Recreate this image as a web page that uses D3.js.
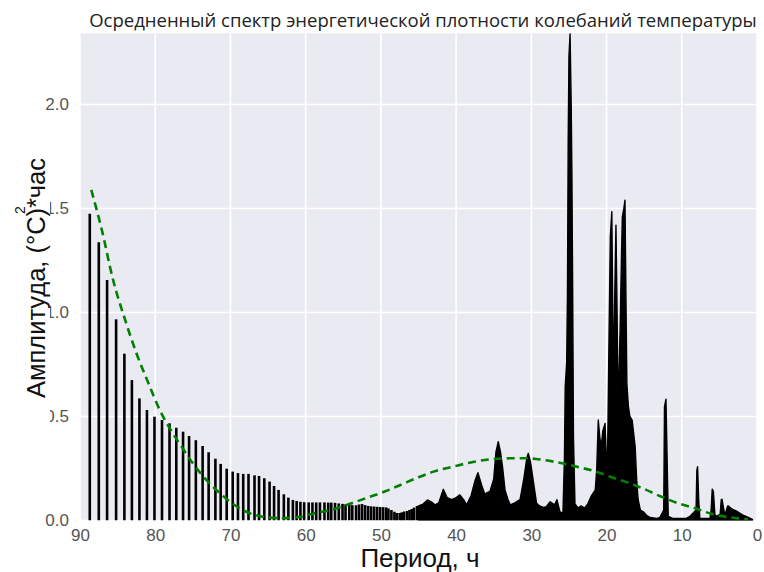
<!DOCTYPE html>
<html>
<head>
<meta charset="utf-8">
<script src="https://cdn.jsdelivr.net/npm/d3@7"></script>
<style>
  body { margin: 0; background: #fff; }
  svg { display: block; }
</style>
</head>
<body>
<svg width="764" height="572"></svg>
<script>
// discrete spectral lines (period in hours, amplitude)
const barPeriods = [88.7, 87.5, 86.4, 85.2, 84.1, 83.1, 82.1, 81.1, 80.1, 79.1, 78.1, 77.2,
  76.3, 75.5, 74.6, 73.7, 72.9, 72.0, 71.3, 70.5, 69.7, 69.0, 68.3, 67.6, 66.8, 66.2,
  65.5, 64.8, 64.2, 63.6, 62.9, 62.3, 61.7, 61.2, 60.7, 60.2, 59.6, 59.1, 58.6, 58.1,
  57.5, 57.0, 56.6, 56.1, 55.6, 55.1, 54.7, 54.2, 53.8, 53.3, 52.9, 52.5, 52.1, 51.7,
  51.3, 50.9, 50.5, 50.1, 49.7, 49.3, 49.0, 48.6, 48.2, 47.9, 47.5, 47.2, 46.9, 46.5,
  46.2, 45.9, 45.6, 45.2];
const barValues = [1.474, 1.338, 1.156, 0.967, 0.802, 0.675, 0.587, 0.531, 0.499, 0.483, 0.467, 0.446,
  0.427, 0.406, 0.386, 0.358, 0.328, 0.297, 0.272, 0.249, 0.235, 0.228, 0.224, 0.224, 0.217, 0.214,
  0.203, 0.187, 0.166, 0.147, 0.126, 0.110, 0.099, 0.094, 0.090, 0.088, 0.087, 0.087, 0.087, 0.087,
  0.087, 0.086, 0.086, 0.085, 0.082, 0.080, 0.078, 0.076, 0.074, 0.073, 0.077, 0.079, 0.074, 0.070,
  0.068, 0.067, 0.066, 0.065, 0.064, 0.063, 0.058, 0.050, 0.042, 0.036, 0.036, 0.040, 0.043, 0.046,
  0.050, 0.055, 0.062, 0.070];

// short periods: lines merge, read as an envelope
const densePeriods = [45.0, 44.4, 43.8, 43.3, 42.8, 42.3, 41.7, 41.2, 40.6, 40.0, 39.5, 39.0,
  38.6, 38.0, 37.5, 37.1, 36.6, 36.2, 35.8, 35.5, 35.0, 34.7, 34.4, 34.1, 33.8, 33.5, 33.1,
  32.8, 32.2, 31.5, 31.0, 30.6, 30.4, 30.1, 29.7, 29.3, 28.9, 28.4, 28.0, 27.5, 26.9, 26.6,
  26.2, 25.8, 25.6, 25.5, 25.3, 25.2, 25.1, 25.0, 24.85, 24.7, 24.6, 24.5, 24.4, 24.2, 23.8,
  23.4, 22.9, 22.5, 22.0, 21.5, 21.3, 21.1, 20.9, 20.7, 20.5, 20.2, 19.9, 19.7, 19.5, 19.3,
  19.2, 19.1, 18.95, 18.75, 18.6, 18.5, 18.35, 18.2, 18.0, 17.9, 17.7, 17.55, 17.4, 17.3,
  17.1, 16.9, 16.6, 16.4, 16.2, 16.0, 15.8, 15.5, 15.1, 14.7, 14.2, 13.3, 12.9, 12.4, 12.3,
  12.1, 11.95, 11.8, 11.2, 9.4, 8.9, 8.1, 8.0, 7.9, 7.75, 7.6, 6.9, 6.25, 6.1, 5.95, 5.8,
  5.6, 5.45, 4.9, 4.75, 4.65, 4.45, 4.26, 3.9, 3.8, 3.5, 3.23, 2.7, 2.26, 1.8, 1.37, 0.9,
  0.6, 0.6];
const denseValues = [0.070, 0.079, 0.099, 0.090, 0.075, 0.085, 0.150, 0.110, 0.100, 0.110, 0.123, 0.100,
  0.075, 0.120, 0.190, 0.230, 0.170, 0.127, 0.135, 0.140, 0.200, 0.330, 0.379, 0.330, 0.250, 0.147, 0.100,
  0.075, 0.085, 0.100, 0.200, 0.300, 0.323, 0.280, 0.180, 0.083, 0.070, 0.063, 0.066, 0.090, 0.075, 0.100,
  0.042, 0.035, 0.300, 0.643, 0.760, 1.080, 1.820, 2.230, 2.340, 2.000, 1.640, 1.080, 0.400, 0.080, 0.060,
  0.070, 0.060, 0.080, 0.120, 0.147, 0.250, 0.483, 0.400, 0.355, 0.430, 0.467, 0.195, 0.800, 1.364, 1.485,
  1.100, 0.627, 1.000, 1.420, 1.000, 0.610, 0.700, 0.916, 1.300, 1.460, 1.500, 1.540, 1.000, 0.660,
  0.550, 0.500, 0.483, 0.420, 0.355, 0.200, 0.100, 0.050, 0.042, 0.025, 0.015, 0.010, 0.015, 0.050, 0.547,
  0.583, 0.300, 0.020, 0.010, 0.010, 0.020, 0.050, 0.240, 0.259, 0.100, 0.010, 0.010, 0.010, 0.050, 0.151, 0.140,
  0.030, 0.020, 0.030, 0.100, 0.102, 0.060, 0.026, 0.070, 0.070, 0.060, 0.054, 0.045, 0.035, 0.025, 0.018, 0.010,
  0.005, 0];

// fitted trend (dashed green)
const fitPeriods = [88.5, 87.1, 85.6, 84.0, 82.5, 80.9, 79.4, 78.1, 76.5, 75.0, 73.2, 71.4, 69.6,
  67.9, 65.7, 63.4, 61.2, 58.8, 56.3, 53.9, 51.7, 49.5, 47.2, 45.0, 43.0, 40.4, 38.2, 35.5,
  32.8, 30.6, 28.4, 26.6, 24.0, 21.0, 19.5, 17.0, 14.9, 12.7, 10.5, 8.2, 6.0, 3.6, 1.2];
const fitValues = [1.589, 1.397, 1.156, 0.964, 0.804, 0.660, 0.531, 0.445, 0.355, 0.275, 0.195, 0.131, 0.078,
  0.042, 0.018, 0.011, 0.015, 0.035, 0.054, 0.083, 0.111, 0.139, 0.174, 0.208, 0.235, 0.259, 0.278, 0.294,
  0.299, 0.299, 0.291, 0.280, 0.259, 0.230, 0.210, 0.180, 0.150, 0.114, 0.083, 0.059, 0.031, 0.015, 0.006];

const xTicks = [90, 80, 70, 60, 50, 40, 30, 20, 10, 0];
const yTicks = [0, 0.5, 1.0, 1.5, 2.0];

const svg = d3.select('svg');
const margin = { left: 80, right: 757, top: 33.3, bottom: 520.5 };

const x = d3.scaleLinear().domain([90, 0]).range([margin.left, margin.right]);
const y = d3.scaleLinear().domain([0, 2.342]).range([margin.bottom, margin.top]);

svg.append('defs').append('clipPath').attr('id', 'plot')
  .append('rect').attr('x', margin.left).attr('y', margin.top)
  .attr('width', margin.right - margin.left).attr('height', margin.bottom - margin.top);

svg.append('rect')
  .attr('x', margin.left).attr('y', margin.top)
  .attr('width', margin.right - margin.left).attr('height', margin.bottom - margin.top)
  .attr('fill', '#eaeaf2');

// grid
const grid = svg.append('g');
grid.selectAll('.vg').data(xTicks).enter().append('line')
  .attr('x1', d => x(d)).attr('x2', d => x(d))
  .attr('y1', margin.top).attr('y2', margin.bottom)
  .attr('stroke', '#fff').attr('stroke-width', 1.6);
grid.selectAll('.hg').data(yTicks).enter().append('line')
  .attr('x1', margin.left).attr('x2', margin.right)
  .attr('y1', d => y(d)).attr('y2', d => y(d))
  .attr('stroke', '#fff').attr('stroke-width', 1.6);

const plot = svg.append('g').attr('clip-path', 'url(#plot)');

plot.selectAll('line.bar')
  .data(barPeriods.map((p, i) => [p, barValues[i]]))
  .enter().append('line')
    .attr('class', 'bar')
    .attr('x1', d => x(d[0])).attr('x2', d => x(d[0]))
    .attr('y1', y(0)).attr('y2', d => y(d[1]))
    .attr('stroke', '#000').attr('stroke-width', 2.6);

const area = d3.area()
  .x(d => x(d[0]))
  .y0(y(0))
  .y1(d => y(d[1]));

plot.append('path')
  .datum(densePeriods.map((p, i) => [p, denseValues[i]]))
  .attr('d', area)
  .attr('fill', '#000')
  .attr('stroke', '#000')
  .attr('stroke-width', 1.4)
  .attr('stroke-linejoin', 'round');

const line = d3.line()
  .x(d => x(d[0]))
  .y(d => y(d[1]))
  .curve(d3.curveMonotoneX);

plot.append('path')
  .datum(fitPeriods.map((p, i) => [p, fitValues[i]]))
  .attr('d', line)
  .attr('fill', 'none')
  .attr('stroke', '#008000')
  .attr('stroke-width', 2.6)
  .attr('stroke-dasharray', '8,5');

// axes
const tickFont = '"Liberation Sans Narrow", "Liberation Sans", Arial, sans-serif';

const xAxis = svg.append('g')
  .attr('transform', `translate(0,${margin.bottom})`)
  .call(d3.axisBottom(x).tickValues(xTicks).tickSize(0).tickPadding(8).tickFormat(d3.format('d')));
xAxis.select('.domain').remove();
xAxis.selectAll('text')
  .attr('fill', '#555').style('font-family', tickFont).style('font-size', '17px');

const yAxis = svg.append('g')
  .attr('transform', `translate(${margin.left},0)`)
  .call(d3.axisLeft(y).tickValues(yTicks).tickSize(0).tickPadding(11).tickFormat(d3.format('.1f')));
yAxis.select('.domain').remove();
yAxis.selectAll('text')
  .attr('fill', '#555').style('font-family', tickFont).style('font-size', '17px');

// y label sits on a white box that hides part of the tick labels
svg.append('rect')
  .attr('x', 0).attr('y', 140).attr('width', 50).attr('height', 285)
  .attr('fill', '#fff');

const yLabel = svg.append('text')
  .attr('transform', 'translate(45,278) rotate(-90)')
  .attr('text-anchor', 'middle')
  .attr('fill', '#111')
  .style('font-family', '"Liberation Sans", Arial, sans-serif')
  .style('font-size', '25.5px');
yLabel.append('tspan').text('Амплитуда, (°C)');
yLabel.append('tspan').attr('dy', -20).attr('dx', -6).style('font-size', '14px').text('2');
yLabel.append('tspan').attr('dy', 20).attr('dx', -2).text('*час');

svg.append('text')
  .attr('x', 420).attr('y', 567)
  .attr('text-anchor', 'middle')
  .attr('fill', '#111')
  .style('font-family', '"Liberation Sans", Arial, sans-serif')
  .style('font-size', '26px')
  .text('Период, ч');

svg.append('text')
  .attr('x', 423).attr('y', 27)
  .attr('text-anchor', 'middle')
  .attr('fill', '#222')
  .style('font-family', '"Open Sans", sans-serif')
  .style('font-size', '18.5px')
  .text('Осредненный спектр энергетической плотности колебаний температуры');
</script>
</body>
</html>
